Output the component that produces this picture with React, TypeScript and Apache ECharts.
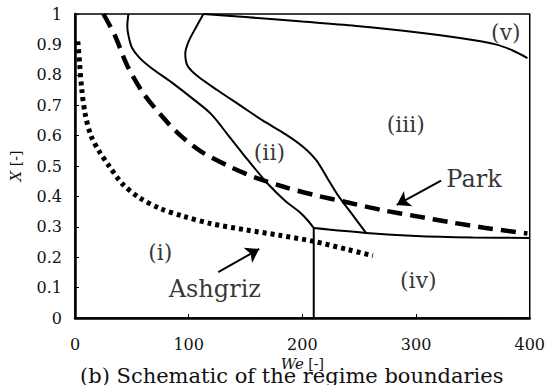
import React, { useEffect, useRef } from "react";
import * as echarts from "echarts";

// Axis ranges / ticks
const weTicks = [0, 100, 200, 300, 400];
const xTicks = [0, 0.1, 0.2, 0.3, 0.4, 0.5, 0.6, 0.7, 0.8, 0.9, 1];

// Ashgriz (dotted) boundary: [We, X]
const ashgriz: [number, number][] = [
  [2.5, 0.91], [4, 0.84], [6, 0.75], [9, 0.67], [14, 0.6], [21, 0.55],
  [30, 0.5], [42, 0.44], [57, 0.395], [75, 0.36], [95, 0.335], [120, 0.31],
  [150, 0.29], [180, 0.272], [210, 0.252], [240, 0.225], [262, 0.205],
];

// Park (dashed) boundary
const park: [number, number][] = [
  [25, 1.0], [35, 0.93], [46, 0.83], [60, 0.74], [75, 0.67], [90, 0.61],
  [110, 0.55], [135, 0.5], [160, 0.46], [185, 0.43], [210, 0.405],
  [240, 0.38], [270, 0.355], [300, 0.335], [330, 0.315], [360, 0.297], [398, 0.278],
];

// (i)/(ii) boundary
const boundaryA: [number, number][] = [
  [47, 1.0], [46, 0.96], [47, 0.93], [50, 0.89], [57, 0.855], [68, 0.82],
  [85, 0.775], [104, 0.72], [120, 0.67], [135, 0.6], [152, 0.52], [170, 0.44],
  [185, 0.385], [197, 0.35], [205, 0.32], [210, 0.296],
];

// (ii)/(iii) boundary
const boundaryB: [number, number][] = [
  [113, 1.0], [107, 0.96], [100, 0.91], [97, 0.87], [99, 0.83], [108, 0.795],
  [125, 0.75], [145, 0.7], [165, 0.65], [185, 0.605], [200, 0.565], [212, 0.52],
  [222, 0.46], [232, 0.4], [244, 0.34], [256, 0.28],
];

// (iii)/(v) boundary
const boundaryV: [number, number][] = [
  [113, 1.0], [150, 0.99], [200, 0.975], [250, 0.96], [300, 0.94],
  [340, 0.92], [370, 0.9], [385, 0.88], [398, 0.855],
];

// (iv) top boundary
const boundaryIV: [number, number][] = [
  [210, 0.296], [256, 0.28], [300, 0.27], [350, 0.265], [400, 0.263],
];

// (i)/(iv) vertical boundary
const boundaryVert: [number, number][] = [
  [210, 0.296], [210, 0],
];

// Region / curve labels
const labelNames = ["(i)", "(ii)", "(iii)", "(iv)", "(v)"];
const labelPos: [number, number][] = [
  [75, 0.217], [171, 0.546], [291, 0.635], [302, 0.125], [379, 0.94],
];
const curveNames = ["Park", "Ashgriz"];
const curvePos: [number, number][] = [[351, 0.458], [123, 0.095]];

// Arrows: [tail, tip]
const parkArrow: [number, number][] = [[322, 0.452], [283, 0.372]];
const ashgrizArrow: [number, number][] = [[126, 0.151], [162, 0.227]];

const caption = "(b) Schematic of the regime boundaries";

const FONT = "DejaVu Serif";

export default function App() {
  const ref = useRef<HTMLDivElement>(null);
  useEffect(() => {
    if (!ref.current) return;
    const chart = echarts.init(ref.current, null, { renderer: "svg" });
    const solid = (data: [number, number][]) => ({
      type: "line",
      data,
      symbol: "none",
      smooth: 0.3,
      lineStyle: { color: "#000", width: 2 },
      z: 3,
    });
    chart.setOption({
      animation: false,
      backgroundColor: "#fff",
      grid: {
        left: 74,
        right: 16,
        top: 14,
        bottom: 67,
        show: true,
        borderColor: "#000",
        borderWidth: 1.5,
      },
      xAxis: {
        type: "value",
        min: weTicks[0],
        max: weTicks[weTicks.length - 1],
        interval: 100,
        name: "{i|We} [-]",
        nameLocation: "middle",
        nameGap: 36,
        nameTextStyle: {
          fontFamily: FONT,
          fontSize: 14,
          color: "#111",
          rich: { i: { fontFamily: FONT, fontStyle: "italic", fontSize: 15, color: "#111" } },
        },
        axisLine: { lineStyle: { color: "#000", width: 2.5 } },
        axisTick: { inside: true, length: 4, lineStyle: { color: "#000", width: 1 } },
        axisLabel: { fontFamily: FONT, fontSize: 16, color: "#111", margin: 18 },
        splitLine: { show: false },
      },
      yAxis: {
        type: "value",
        min: xTicks[0],
        max: xTicks[xTicks.length - 1],
        interval: 0.1,
        name: "{i|X} [-]",
        nameLocation: "middle",
        nameRotate: 90,
        nameGap: 52,
        nameTextStyle: {
          fontFamily: FONT,
          fontSize: 14,
          color: "#111",
          rich: { i: { fontFamily: FONT, fontStyle: "italic", fontSize: 15, color: "#111" } },
        },
        axisLine: { lineStyle: { color: "#000", width: 2.5 } },
        axisTick: { inside: true, length: 4, lineStyle: { color: "#000", width: 1 } },
        axisLabel: { fontFamily: FONT, fontSize: 16, color: "#111", margin: 13 },
        splitLine: { show: false },
      },
      graphic: [
        {
          type: "text",
          left: 80,
          top: 365,
          style: {
            text: caption,
            fontFamily: FONT,
            fontSize: 21,
            fill: "#111",
          },
          z: 0,
        },
      ],
      series: [
        {
          type: "line",
          data: ashgriz,
          symbol: "none",
          smooth: 0.3,
          lineStyle: { color: "#000", width: 5, type: [4, 4], cap: "butt" },
          z: 2,
          markLine: {
            silent: true,
            symbol: ["none", "arrow"],
            symbolSize: 13,
            label: { show: false },
            lineStyle: { color: "#000", width: 2, type: "solid" },
            data: [[{ coord: ashgrizArrow[0] }, { coord: ashgrizArrow[1] }]],
          },
        },
        {
          type: "line",
          data: park,
          symbol: "none",
          smooth: 0.3,
          lineStyle: { color: "#000", width: 4.5, type: [15, 8], cap: "butt" },
          z: 2,
          markLine: {
            silent: true,
            symbol: ["none", "arrow"],
            symbolSize: 13,
            label: { show: false },
            lineStyle: { color: "#000", width: 2, type: "solid" },
            data: [[{ coord: parkArrow[0] }, { coord: parkArrow[1] }]],
          },
        },
        solid(boundaryA),
        solid(boundaryB),
        solid(boundaryV),
        solid(boundaryIV),
        { ...solid(boundaryVert), smooth: false },
        {
          type: "scatter",
          symbolSize: 0,
          data: labelNames.map((n, i) => ({ name: n, value: labelPos[i] })),
          label: {
            show: true,
            position: "inside",
            formatter: "{b}",
            fontFamily: FONT,
            fontSize: 22,
            color: "#000",
          },
          z: 5,
        },
        {
          type: "scatter",
          symbolSize: 0,
          data: curveNames.map((n, i) => ({ name: n, value: curvePos[i] })),
          label: {
            show: true,
            position: "inside",
            formatter: "{b}",
            fontFamily: FONT,
            fontSize: 24,
            color: "#000",
          },
          z: 5,
        },
      ],
    });
    return () => chart.dispose();
  }, []);
  return (
    <div
      ref={ref}
      style={{ position: "fixed", left: 0, top: 0, width: 548, height: 385, background: "#fff" }}
    />
  );
}
